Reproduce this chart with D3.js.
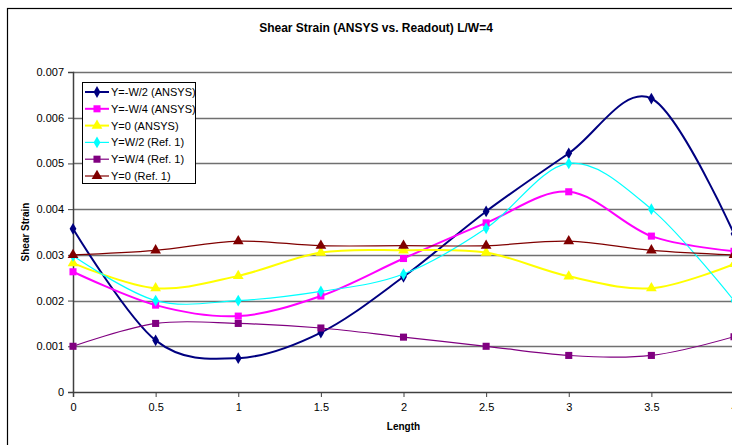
<!DOCTYPE html>
<html>
<head>
<meta charset="utf-8">
<script src="https://cdn.jsdelivr.net/npm/d3@7"></script>
<style>
  body { margin: 0; background: #fff; }
  svg { display: block; font-family: "Liberation Sans", Arial, sans-serif; }
</style>
</head>
<body>
<div id="wrapper"></div>
<script>
// chart data
const lengths = [0, 0.5, 1, 1.5, 2, 2.5, 3, 3.5, 4];
const seriesNames = ["Y=-W/2 (ANSYS)", "Y=-W/4 (ANSYS)", "Y=0 (ANSYS)", "Y=W/2 (Ref. 1)", "Y=W/4 (Ref. 1)", "Y=0 (Ref. 1)"];
const negHalfAnsys = [0.00357, 0.00113, 0.00074, 0.00130, 0.00252, 0.00395, 0.00522, 0.00642, 0.00346];
const negQuarterAnsys = [0.00263, 0.00190, 0.00166, 0.00210, 0.00292, 0.00370, 0.00438, 0.00341, 0.00308];
const zeroAnsys = [0.00282, 0.00227, 0.00254, 0.00305, 0.00310, 0.00305, 0.00253, 0.00227, 0.00280];
const halfRef = [0.00298, 0.00200, 0.00200, 0.00220, 0.00258, 0.00358, 0.00500, 0.00400, 0.00200];
const quarterRef = [0.00100, 0.00150, 0.00150, 0.00140, 0.00120, 0.00100, 0.00080, 0.00080, 0.00121];
const zeroRef = [0.00300, 0.00310, 0.00330, 0.00320, 0.00320, 0.00320, 0.00330, 0.00310, 0.00300];
const yTicks = [0, 0.001, 0.002, 0.003, 0.004, 0.005, 0.006, 0.007];

const seriesValues = [negHalfAnsys, negQuarterAnsys, zeroAnsys, halfRef, quarterRef, zeroRef];
const colors = ["#000080", "#ff00ff", "#ffff00", "#00ffff", "#800080", "#800000"];
const symbols = [d3.symbolDiamond, d3.symbolSquare, d3.symbolTriangle, d3.symbolDiamond, d3.symbolSquare, d3.symbolTriangle];
const widths = [2, 2, 2, 1.2, 1.2, 1.2];

const width = 732, height = 445;
const margin = { top: 72, left: 73, bottom: 53, right: -2 };

const svg = d3.select("#wrapper").append("svg")
    .attr("width", width)
    .attr("height", height);

// chart frame
svg.append("rect")
    .attr("x", 7.5).attr("y", 8.5)
    .attr("width", 760).attr("height", 460)
    .attr("fill", "none").attr("stroke", "#000").attr("stroke-width", 1.2);

const x = d3.scaleLinear().domain([0, 4]).range([margin.left, width - margin.right]);
const y = d3.scaleLinear().domain([0, 0.007]).range([height - margin.bottom, margin.top]);

// grid
svg.append("g").selectAll("line")
    .data(yTicks.slice(1))
    .enter().append("line")
    .attr("x1", x(0)).attr("x2", x(4) + 10)
    .attr("y1", d => Math.round(y(d)) + 0.5)
    .attr("y2", d => Math.round(y(d)) + 0.5)
    .attr("stroke", "#707070").attr("stroke-width", 1.5);

// axes
const yAxis = svg.append("g")
    .attr("transform", `translate(${x(0)},0)`)
    .call(d3.axisLeft(y).tickValues(yTicks).tickSize(5).tickPadding(4)
        .tickFormat(d => d === 0 ? "0" : d3.format(".3f")(d)));
const xAxis = svg.append("g")
    .attr("transform", `translate(0,${y(0)})`)
    .call(d3.axisBottom(x).tickValues(lengths).tickSize(5).tickPadding(6)
        .tickFormat(d => String(d)));
[yAxis, xAxis].forEach(g => {
    g.select(".domain").attr("stroke", "#404040").attr("stroke-width", 1.5);
    g.selectAll(".tick line").attr("stroke", "#404040");
    g.selectAll("text").attr("font-size", 11).attr("fill", "#000")
        .attr("font-family", "Liberation Sans, Arial, sans-serif");
});

// titles
svg.append("text")
    .attr("x", 376).attr("y", 32)
    .attr("text-anchor", "middle")
    .style("font-size", "12px").style("font-weight", "bold")
    .text("Shear Strain (ANSYS vs. Readout) L/W=4");
svg.append("text")
    .attr("x", x(2)).attr("y", 430)
    .attr("text-anchor", "middle")
    .style("font-size", "10px").style("font-weight", "bold")
    .text("Length");
svg.append("text")
    .attr("transform", `translate(29,${y(0.0035)}) rotate(-90)`)
    .attr("text-anchor", "middle")
    .style("font-size", "10px").style("font-weight", "bold")
    .text("Shear Strain");

// lines
const line = d3.line()
    .x((d, i) => x(lengths[i]))
    .y(d => y(d))
    .curve(d3.curveCardinal.tension(0));

const markerSize = [40, 50, 50, 40, 50, 50];

seriesValues.forEach((vals, s) => {
    svg.append("path")
        .datum(vals)
        .attr("fill", "none")
        .attr("stroke", colors[s])
        .attr("stroke-width", widths[s])
        .attr("d", line);
});
seriesValues.forEach((vals, s) => {
    svg.append("g").selectAll("path")
        .data(vals)
        .enter().append("path")
        .attr("d", d3.symbol().type(symbols[s]).size(markerSize[s]))
        .attr("fill", colors[s])
        .attr("transform", (d, i) => `translate(${x(lengths[i])},${y(d)})`);
});

// legend
const legend = svg.append("g").attr("transform", "translate(82,82)");
legend.append("rect")
    .attr("x", 0.5).attr("y", 0.5)
    .attr("width", 113).attr("height", 101)
    .attr("fill", "#fff").attr("stroke", "#000");
seriesNames.forEach((name, s) => {
    const ly = 10 + s * 16.8;
    legend.append("line")
        .attr("x1", 3).attr("x2", 27)
        .attr("y1", ly).attr("y2", ly)
        .attr("stroke", colors[s]).attr("stroke-width", widths[s]);
    legend.append("path")
        .attr("d", d3.symbol().type(symbols[s]).size(markerSize[s]))
        .attr("fill", colors[s])
        .attr("transform", `translate(15,${ly})`);
    legend.append("text")
        .attr("x", 29).attr("y", ly + 4)
        .style("font-size", "11px")
        .text(name);
});
</script>
</body>
</html>
